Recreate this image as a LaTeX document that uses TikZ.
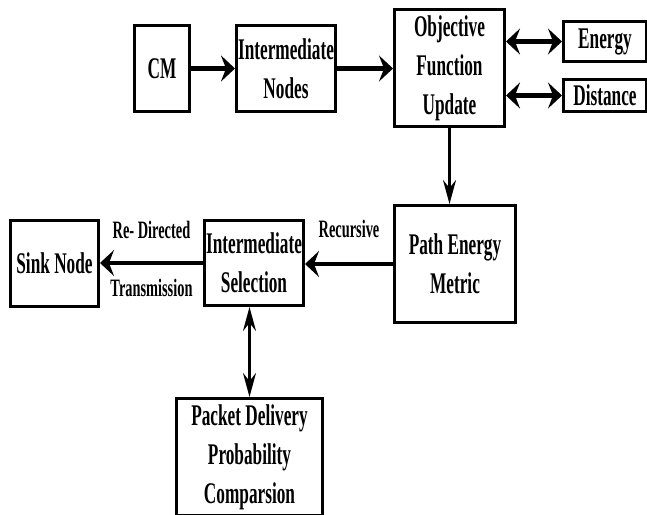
\documentclass[tikz,border=0pt]{standalone}
\usepackage{fontspec}
\setmainfont[FakeStretch=0.575]{Liberation Serif}
\usetikzlibrary{arrows.meta}

\begin{document}
\begin{tikzpicture}[x=1pt,y=-1pt,
		box/.style={draw,line width=3pt,align=center,inner sep=0pt,font=\fontsize{30}{39}\selectfont\bfseries},
		lbl/.style={inner sep=0pt,font=\fontsize{25}{30}\selectfont\bfseries},
		harr/.style={line width=4.5pt,-{Stealth[length=14pt,width=26pt,inset=5pt]}},
		hdbl/.style={line width=4.5pt,{Stealth[length=14pt,width=26pt,inset=5pt]}-{Stealth[length=14pt,width=26pt,inset=5pt]}},
		varr/.style={line width=2.5pt,-{Stealth[length=24pt,width=13pt,inset=8pt]}},
		vdbl/.style={line width=2.5pt,{Stealth[length=24pt,width=13pt,inset=8pt]}-{Stealth[length=24pt,width=13pt,inset=8pt]}}]
		\useasboundingbox (0,0) rectangle (647,514);
		% top row
		\node[box,minimum width=55pt,minimum height=86pt] (cm) at (162,68.5) {CM};
		\node[box,minimum width=99pt,minimum height=86pt] (inter) at (286,68.5) {Intermediate\\Nodes};
		\node[box,minimum width=110pt,minimum height=117pt] (ofu) at (449.5,68) {Objective\\Function\\Update};
		\node[box,minimum width=83pt,minimum height=40pt] (energy) at (605,41.5) {Energy};
		\node[box,minimum width=83pt,minimum height=32pt] (dist) at (605,95.5) {Distance};
		% middle row
		\node[box,minimum width=121pt,minimum height=117pt] (pem) at (455,264) {Path Energy\\Metric};
		\node[box,minimum width=99pt,minimum height=85pt] (isel) at (254,263) {Intermediate\\Selection};
		\node[box,minimum width=88pt,minimum height=86pt] (sink) at (54.5,263.5) {Sink Node};
		% bottom
		\node[box,minimum width=146pt,minimum height=117pt] (pdp) at (249.5,457) {Packet Delivery\\Probability\\Comparsion};

		\draw[harr] (cm.east |- inter.west) -- (inter.west);
		\draw[harr] (inter.east) -- (inter.east -| ofu.west);
		\draw[hdbl] (ofu.east |- energy.west) -- (energy.west);
		\draw[hdbl] (ofu.east |- dist.west) -- (dist.west);
		\draw[varr] (ofu.south) -- (ofu.south |- pem.north);
		\draw[harr] (pem.west) -- (isel.east |- pem.west) node[lbl,midway,above=24pt]{Recursive};
		\draw[harr] (isel.west) -- (sink.east |- isel.west) node[lbl,midway,above=22pt]{Re- Directed} node[lbl,midway,below=14pt]{Transmission};
		\draw[vdbl] (pdp.north |- isel.south) -- (pdp.north);
	\end{tikzpicture}
\end{document}
